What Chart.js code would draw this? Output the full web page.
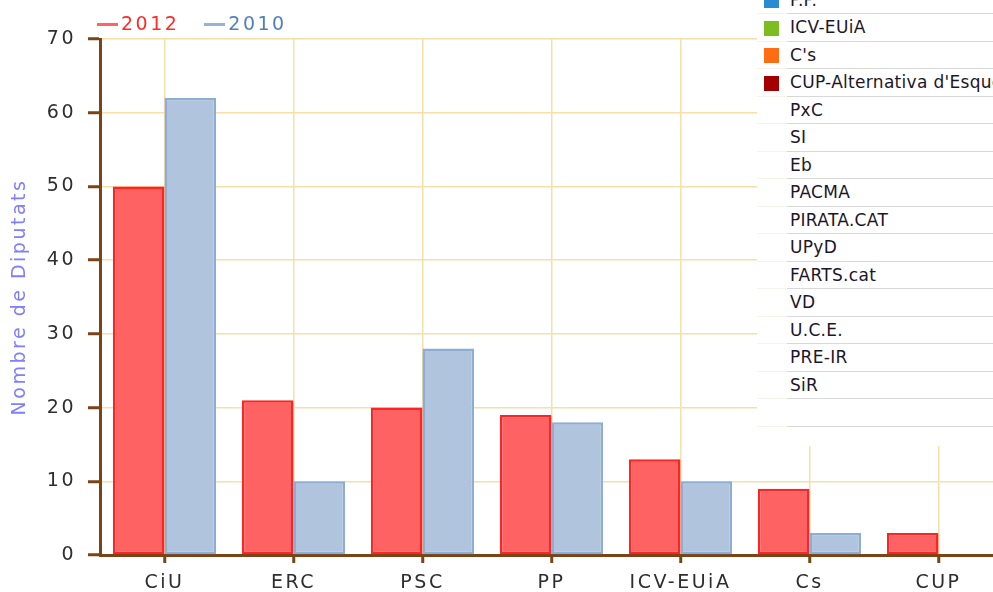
<!DOCTYPE html>
<html>
<head>
<meta charset="utf-8">
<script src="https://cdn.jsdelivr.net/npm/chart.js@4/dist/chart.umd.min.js"></script>
<style>
  body { margin: 0; overflow: hidden; background: #fff; font-family: "DejaVu Sans", Verdana, sans-serif; }
  #wrap { position: relative; width: 1010px; height: 592px; }
  #legend { position: absolute; left: 97px; top: 11px; font-size: 19px; letter-spacing: 2.5px; white-space: nowrap; line-height: 24px; }
  #legend span.item { margin-right: 25px; }
  #legend span.dash { display: inline-block; width: 21px; height: 3px; vertical-align: middle; margin-right: 3px; }
  #parties { position: absolute; left: 757px; top: -14px; width: 280px; background: #fff; padding-bottom: 19px; }
  #parties table { border-collapse: collapse; table-layout: fixed; width: 100%; font-size: 17px; letter-spacing: 0.3px; color: #1c1628; }
  #parties td { height: 26px; padding: 0; border-bottom: 1.5px solid #d8d8d8; white-space: nowrap; overflow: hidden; }
  #parties tr { height: 27.5px; }
  #parties td.sq { width: 30px; border-bottom-color: #f6f3ea; }
  #parties td.sq i { display: inline-block; width: 15px; height: 15px; margin-left: 7px; vertical-align: middle; }
  #parties tr:nth-child(even) td.name { background: #f8f4ea; }
  #parties td.name { padding-left: 3px; }
</style>
</head>
<body>
<div id="wrap">
  <canvas id="grafic"></canvas>
  <div id="legend"></div>
  <div id="parties"><table id="partyTable"></table></div>
</div>
<script>
const categories = ["CiU", "ERC", "PSC", "PP", "ICV-EUiA", "Cs", "CUP"];
const seats2012 = [50, 21, 20, 19, 13, 9, 3];
const seats2010 = [62, 10, 28, 18, 10, 3, 0];
const seriesNames = ["2012", "2010"];
const partyNames = ["P.P.", "ICV-EUiA", "C's", "CUP-Alternativa d'Esquerres", "PxC", "SI", "Eb", "PACMA",
    "PIRATA.CAT", "UPyD", "FARTS.cat", "VD", "U.C.E.", "PRE-IR", "SiR", ""];
const partyColors = ["#2b8bd0", "#7dbd1f", "#ff6c12", "#a30000"];

const brown = "#7a4416";

// llegenda de dalt
const legend = document.getElementById("legend");
const legendColors = [["#ff6464", "#ff2a2a"], ["#94b3d9", "#4f7fbf"]];
seriesNames.forEach((nom, i) => {
    legend.innerHTML += `<span class="item"><span class="dash" style="background:${legendColors[i][0]}"></span>` +
        `<span style="color:${legendColors[i][1]}">${nom}</span></span>`;
});

// taula de partits
const taula = document.getElementById("partyTable");
partyNames.forEach((p, i) => {
    const sq = partyColors[i] ? `<i style="background:${partyColors[i]}"></i>` : "";
    taula.innerHTML += `<tr><td class="sq">${sq}</td><td class="name">${p || "&nbsp;"}</td></tr>`;
});

// text una mica espaiat, com a l'original
const espaiat = {
    id: "espaiat",
    beforeLayout: chart => { chart.ctx.letterSpacing = "2.5px"; },
    beforeDraw: chart => { chart.ctx.letterSpacing = "2.5px"; }
};

const ctx = document.getElementById("grafic").getContext("2d");
new Chart(ctx, {
    type: "bar",
    data: {
        labels: categories,
        datasets: [{
            label: seriesNames[0],
            data: seats2012,
            backgroundColor: "rgb(255, 98, 98)",
            borderColor: "#ff2424",
            borderWidth: 2.5,
            borderSkipped: false
        }, {
            label: seriesNames[1],
            data: seats2010,
            backgroundColor: "#b0c4de",
            borderColor: "#8eadd4",
            borderWidth: 2.5,
            borderSkipped: false
        }]
    },
    plugins: [espaiat],
    options: {
        responsive: true,
        maintainAspectRatio: false,
        animation: false,
        layout: { padding: { top: 39, right: 7, left: 0, bottom: 0 } },
        plugins: { legend: { display: false }, tooltip: { enabled: false } },
        datasets: { bar: { categoryPercentage: 0.8, barPercentage: 1 } },
        scales: {
            x: {
                grid: { offset: false, color: "#f7dfa8", lineWidth: 1.5, tickColor: brown, tickLength: 8, tickWidth: 3 },
                border: { color: brown, width: 3 },
                ticks: { color: "#2e2e2e", font: { family: "DejaVu Sans", size: 19 }, padding: 9 },
                afterFit: s => { s.height = 37; }
            },
            y: {
                min: 0,
                max: 70,
                ticks: { stepSize: 10, color: "#2e2e2e", font: { family: "DejaVu Sans", size: 19 }, padding: 12 },
                grid: { color: "#f7dfa8", lineWidth: 1.5, tickColor: brown, tickLength: 12, tickWidth: 3 },
                border: { color: brown, width: 3 },
                title: {
                    display: true,
                    text: "Nombre de Diputats",
                    color: "#7f7fff",
                    font: { family: "DejaVu Sans", size: 19 },
                    padding: { top: 9, bottom: 0 }
                },
                afterFit: s => { s.width = 100; }
            }
        }
    }
});
</script>
</body>
</html>
